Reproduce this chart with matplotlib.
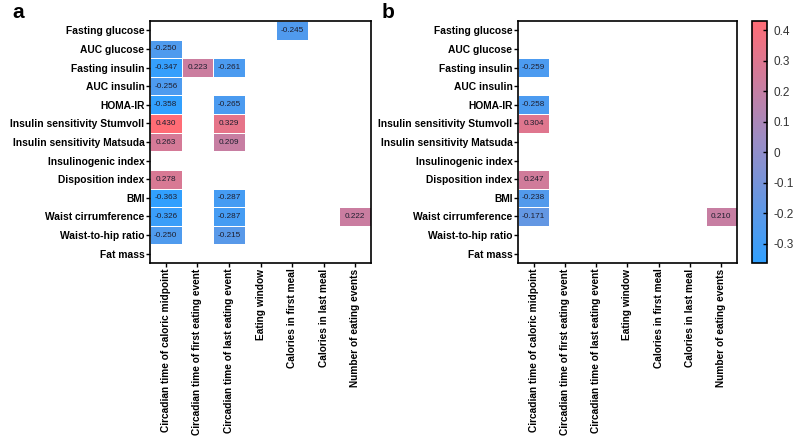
import numpy as np
import matplotlib.pyplot as plt
from matplotlib.colors import LinearSegmentedColormap

plt.rcParams['font.family'] = ['Liberation Sans', 'DejaVu Sans']

outcomes = ["Fasting glucose", "AUC glucose", "Fasting insulin", "AUC insulin", "HOMA-IR",
            "Insulin sensitivity Stumvoll", "Insulin sensitivity Matsuda", "Insulinogenic index",
            "Disposition index", "BMI", "Waist cirrumference", "Waist-to-hip ratio", "Fat mass"]
timing = ["Circadian time of caloric midpoint", "Circadian time of first eating event",
          "Circadian time of last eating event", "Eating window", "Calories in first meal",
          "Calories in last meal", "Number of eating events"]

n = np.nan
# panel a: rows = outcomes, cols = timing variables (only significant shown)
corr_a = [
    [n, n, n, n, -0.245, n, n],
    [-0.250, n, n, n, n, n, n],
    [-0.347, 0.223, -0.261, n, n, n, n],
    [-0.256, n, n, n, n, n, n],
    [-0.358, n, -0.265, n, n, n, n],
    [0.430, n, 0.329, n, n, n, n],
    [0.263, n, 0.209, n, n, n, n],
    [n, n, n, n, n, n, n],
    [0.278, n, n, n, n, n, n],
    [-0.363, n, -0.287, n, n, n, n],
    [-0.326, n, -0.287, n, n, n, 0.222],
    [-0.250, n, -0.215, n, n, n, n],
    [n, n, n, n, n, n, n],
]
corr_b = [
    [n, n, n, n, n, n, n],
    [n, n, n, n, n, n, n],
    [-0.259, n, n, n, n, n, n],
    [n, n, n, n, n, n, n],
    [-0.258, n, n, n, n, n, n],
    [0.304, n, n, n, n, n, n],
    [n, n, n, n, n, n, n],
    [n, n, n, n, n, n, n],
    [0.247, n, n, n, n, n, n],
    [-0.238, n, n, n, n, n, n],
    [-0.171, n, n, n, n, n, 0.210],
    [n, n, n, n, n, n, n],
    [n, n, n, n, n, n, n],
]
cbar_ticks = [0.4, 0.3, 0.2, 0.1, 0, -0.1, -0.2, -0.3]

cmap = LinearSegmentedColormap.from_list("bluered", ["#31a0fe", "#9a8dc6", "#ff6c75"])
vmin, vmax = -0.363, 0.430

fig = plt.figure(figsize=(8, 4.45), dpi=100)
ax_a = fig.add_axes([150/800, 1-263/445, 221/800, 242/445])
ax_b = fig.add_axes([518/800, 1-263/445, 219/800, 242/445])
cax = fig.add_axes([752/800, 1-263/445, 15/800, 242/445])

for ax, data in [(ax_a, corr_a), (ax_b, corr_b)]:
    arr = np.ma.masked_invalid(np.array(data))
    mesh = ax.pcolormesh(arr, cmap=cmap, vmin=vmin, vmax=vmax, edgecolor='white', linewidth=0.4)
    ax.set_xlim(0, len(timing))
    ax.set_ylim(len(outcomes), 0)
    ax.set_xticks(np.arange(len(timing)) + 0.5)
    ax.set_xticklabels(timing, rotation=90, fontsize=7.3, fontweight='bold')
    ax.set_yticks(np.arange(len(outcomes)) + 0.5)
    ax.set_yticklabels(outcomes, fontsize=7.4, fontweight='bold')
    ax.tick_params(length=3, width=1, pad=1)
    for s in ax.spines.values():
        s.set_linewidth(1.2)
    for i, row in enumerate(data):
        for j, v in enumerate(row):
            if not np.isnan(v):
                ax.text(j + 0.5, i + 0.5, f"{v:.3f}", ha='center', va='center',
                        fontsize=5.9, color='#1e1e2e')

cb = fig.colorbar(mesh, cax=cax)
cb.set_ticks(cbar_ticks)
cb.set_ticklabels(["0.4", "0.3", "0.2", "0.1", "0", "-0.1", "-0.2", "-0.3"])
cb.ax.tick_params(labelsize=8.5, length=3, width=1, direction='in', pad=5, labelcolor='#333333')
cb.outline.set_linewidth(1.2)

fig.text(12/800, 1-18/445, "a", fontsize=15, fontweight='bold')
fig.text(382/800, 1-18/445, "b", fontsize=15, fontweight='bold')

fig.savefig("out.png", dpi=100)
